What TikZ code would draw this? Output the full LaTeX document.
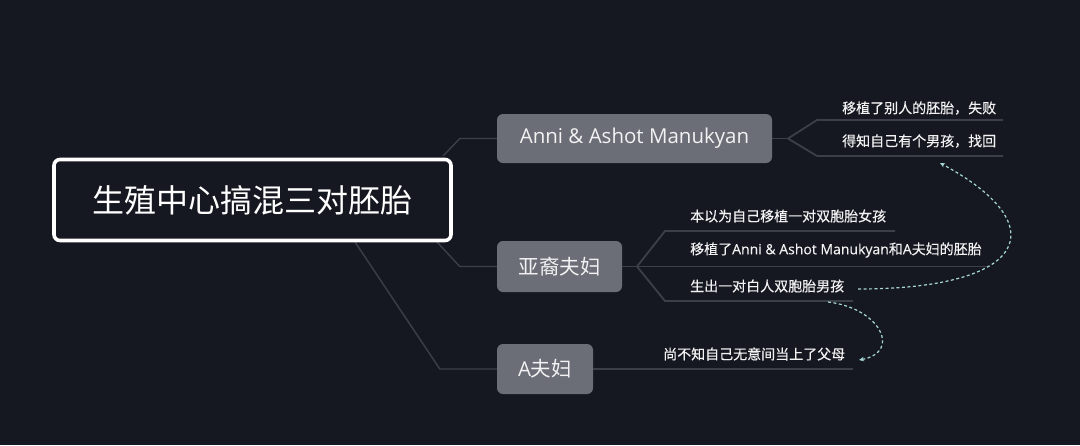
\documentclass[tikz,border=0pt]{standalone}
\usepackage{fontspec}
\setmainfont{Open Sans}
\newfontfamily\cjk{Noto Sans CJK SC}
\newfontfamily\cjkm[FakeBold=0.35]{Noto Sans CJK SC}
\newfontfamily\latm[FakeBold=0.35]{Open Sans}
\usetikzlibrary{arrows.meta}
\definecolor{bg}{HTML}{161821}
\definecolor{boxgray}{HTML}{6B6D77}
\definecolor{linegray}{HTML}{3C3E49}
\definecolor{dashcyan}{HTML}{A6D6D6}
\definecolor{txt}{HTML}{F2F2F2}
\begin{document}
\begin{tikzpicture}[x=1pt,y=-1pt,
  rootbox/.style={draw=white, line width=3.6pt, fill=bg, rounded corners=6pt,
    minimum width=397pt, minimum height=81pt, inner sep=0pt, text=white,
    font=\cjk\fontsize{32}{38}\selectfont},
  subbox/.style={fill=boxgray, rounded corners=6pt, inner sep=0pt, text=txt,
    font=\fontsize{20.5}{24}\selectfont},
  leaf/.style={anchor=west, inner sep=0pt, text=txt, font=\cjkm\fontsize{14}{17}\selectfont},
  conn/.style={draw=linegray, line width=1.4pt},
  uline/.style={draw=linegray, line width=1.8pt},
  rel/.style={draw=dashcyan, line width=1.2pt, dash pattern=on 3pt off 2.5pt,
    -{Stealth[length=5pt,width=4.5pt]}}
]
\fill[bg] (0,0) rectangle (1080,445);
\useasboundingbox (0,0) rectangle (1080,445);

% connectors from root (drawn first, root covers their origin)
\coordinate (o1) at (443,156);
\coordinate (o2) at (437,242);
\coordinate (o3) at (355,242);

\node[subbox, minimum width=275pt, minimum height=49pt] (anni) at (634.5,138.5) {Anni \& Ashot Manukyan};
\node[subbox, minimum width=125pt, minimum height=51pt] (yayi) at (559.5,266.5) {\cjk 亚裔夫妇};
\node[subbox, minimum width=96pt, minimum height=50pt] (afu) at (545,369) {A{\cjk 夫妇}};

\draw[conn] (o1) -- ([xshift=-37pt]anni.west) -- (anni.west);
\draw[conn] (o2) -- ([xshift=-37pt]yayi.west) -- (yayi.west);
\draw[conn] (o3) -- ([xshift=-57pt]afu.west) -- (afu.west);

\node[rootbox] (root) at (252.5,200) {生殖中心搞混三对胚胎};

% leaves of Anni
\node[leaf] (l1) at (842,108) {移植了别人的胚胎，失败};
\node[leaf] (l2) at (842,141) {得知自己有个男孩，找回};
\coordinate (fa) at (788,138.5);
\coordinate (e1) at (1003,120);
\coordinate (e2) at (1003,156);
\draw[uline] (anni.east) -- (fa);
\draw[uline] (fa) -- (817,120) -- (e1);
\draw[uline] (fa) -- (817,156) -- (e2);

% leaves of yayi
\node[leaf] (l3) at (690,216) {本以为自己移植一对双胞胎女孩};
\node[leaf] (l4) at (690,250) {移植了{\latm Anni \& Ashot Manukyan}和{\latm A}夫妇的胚胎};
\node[leaf] (l5) at (690,286) {生出一对白人双胞胎男孩};
\coordinate (fy) at (637,266.5);
\coordinate (e3) at (895,231);
\coordinate (e4) at (990,266.5);
\coordinate (e5) at (853,301);
\draw[uline] (yayi.east) -- (fy);
\draw[uline] (fy) -- (665,231) -- (e3);
\draw[uline] (fy) -- (e4);
\draw[uline] (fy) -- (665,301) -- (e5);

% leaf of A
\node[leaf] (l6) at (663,354) {尚不知自己无意间当上了父母};
\coordinate (e6) at (853,369);
\draw[uline] (afu.east) -- (e6);

% dashed relations
\coordinate (s1) at (858,289);
\coordinate (t1) at (940,163);
\coordinate (s2) at (828,302);
\coordinate (t2) at (859,360);
\draw[rel] (s1) .. controls (1030,289) and (1055,225) .. (t1);
\draw[rel] (s2) .. controls (880,308) and (902,352) .. (t2);
\end{tikzpicture}
\end{document}
